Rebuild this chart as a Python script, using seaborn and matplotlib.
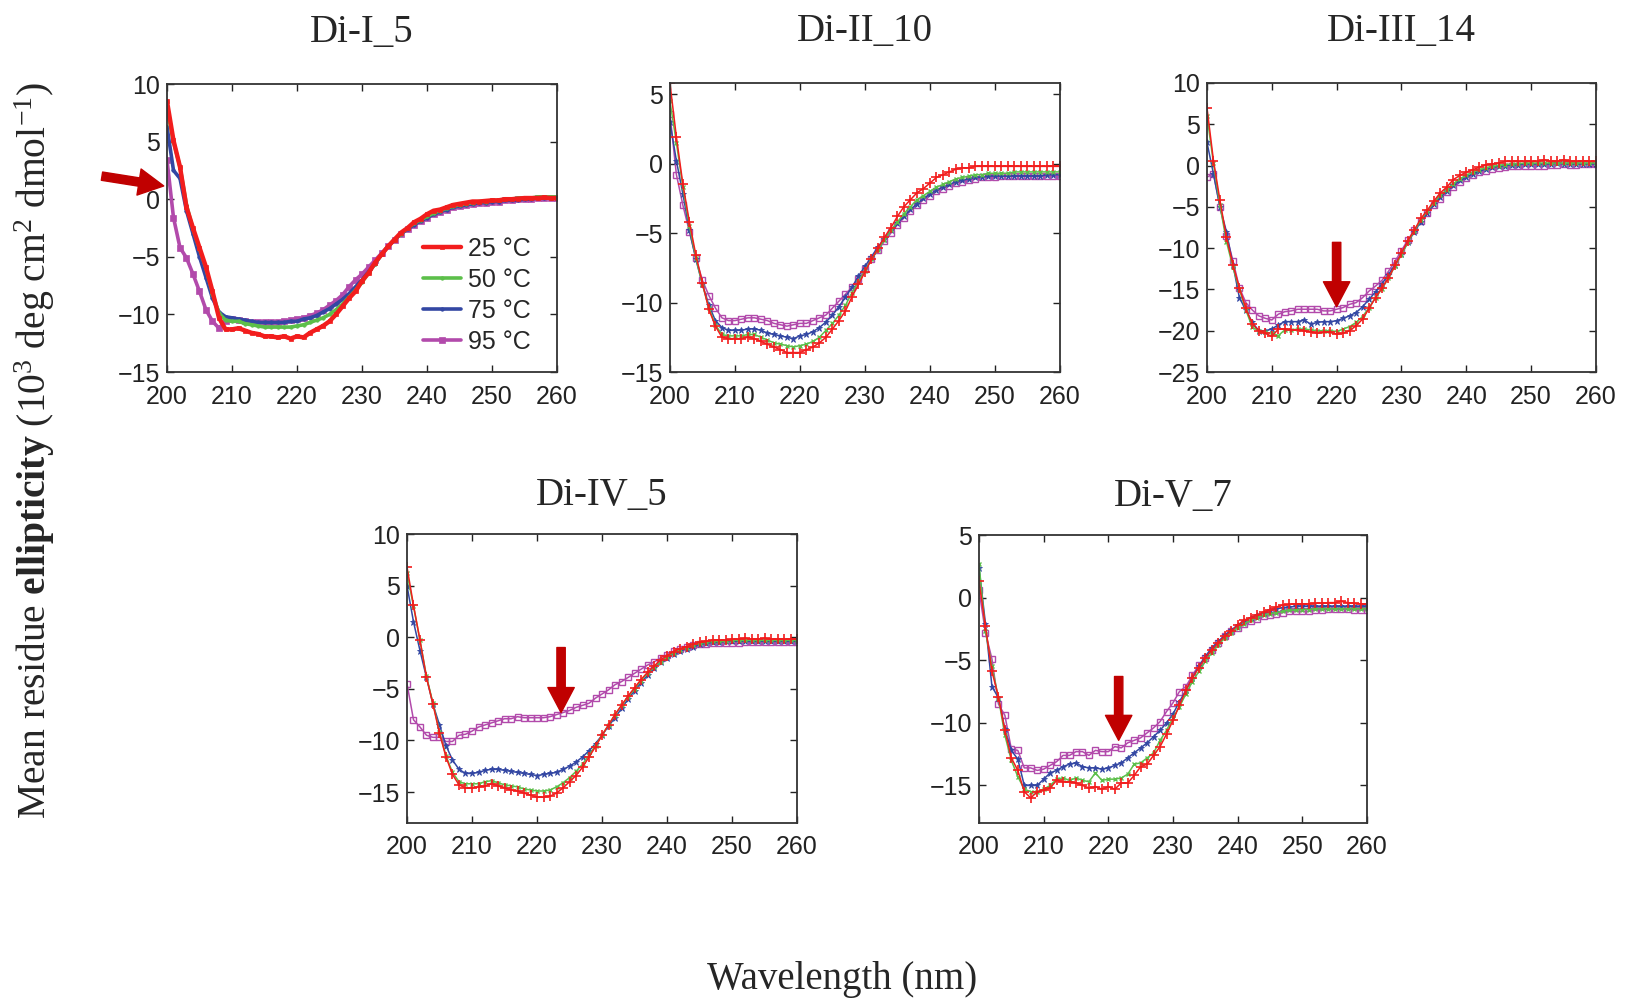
import numpy as np
import pandas as pd
import seaborn as sns
import matplotlib.pyplot as plt

# wavelength grid (nm), one reading per nm
wl = list(range(200, 261))

temps = ['25 °C', '50 °C', '75 °C', '95 °C']
titles = ['Di-I_5', 'Di-II_10', 'Di-III_14', 'Di-IV_5', 'Di-V_7']

# Di-I_5
d1_25 = [8.5, 5.1, 2.8, -0.7, -2.5, -4.2, -5.9, -8.0, -10.3, -11.3,
         -11.3, -11.2, -11.4, -11.6, -11.7, -11.9, -11.9, -12.0, -11.9, -12.1,
         -11.9, -12.0, -11.6, -11.3, -11.0, -10.6, -10.0, -9.3, -8.6, -8.0,
         -7.1, -6.4, -5.5, -4.8, -4.1, -3.5, -2.9, -2.5, -2.0, -1.7,
         -1.3, -1.0, -0.9, -0.7, -0.5, -0.4, -0.3, -0.2, -0.2, -0.15,
         -0.1, -0.1, 0.0, 0.0, 0.05, 0.1, 0.1, 0.1, 0.15, 0.1, 0.1]
d1_50 = [7.8, 5.0, 2.8, -0.5, -2.6, -4.3, -6.0, -8.2, -9.9, -10.5,
         -10.6, -10.6, -10.8, -10.9, -11.0, -11.1, -11.1, -11.1, -11.1, -11.1,
         -11.0, -10.9, -10.7, -10.5, -10.3, -10.0, -9.6, -9.1, -8.5, -7.9,
         -7.2, -6.4, -5.6, -4.8, -4.1, -3.5, -3.0, -2.5, -2.1, -1.8,
         -1.5, -1.2, -1.0, -0.8, -0.6, -0.5, -0.4, -0.3, -0.2, -0.2,
         -0.1, -0.1, 0.0, 0.0, 0.1, 0.1, 0.1, 0.2, 0.2, 0.2, 0.2]
d1_75 = [6.3, 2.5, 1.8, -1.0, -3.0, -5.0, -6.8, -8.6, -9.8, -10.2,
         -10.3, -10.4, -10.5, -10.6, -10.7, -10.7, -10.7, -10.7, -10.7, -10.6,
         -10.6, -10.4, -10.3, -10.1, -9.8, -9.5, -9.1, -8.7, -8.2, -7.6,
         -7.0, -6.3, -5.6, -4.8, -4.1, -3.5, -3.0, -2.6, -2.2, -1.9,
         -1.6, -1.3, -1.1, -0.9, -0.7, -0.6, -0.5, -0.4, -0.3, -0.3,
         -0.2, -0.2, -0.1, -0.1, -0.1, 0.0, 0.0, 0.1, 0.1, 0.1, 0.1]
d1_95 = [3.4, -1.6, -4.2, -5.1, -6.5, -8.0, -9.6, -10.6, -11.2, -10.6,
         -10.4, -10.5, -10.6, -10.7, -10.7, -10.7, -10.7, -10.7, -10.6, -10.5,
         -10.4, -10.3, -10.1, -9.9, -9.6, -9.2, -8.8, -8.3, -7.6, -7.0,
         -6.5, -5.9, -5.3, -4.7, -4.1, -3.5, -3.0, -2.6, -2.2, -1.9,
         -1.6, -1.3, -1.1, -0.9, -0.7, -0.6, -0.5, -0.4, -0.3, -0.3,
         -0.2, -0.2, -0.1, -0.1, 0.0, 0.0, 0.0, 0.1, 0.1, 0.1, 0.1]

# Di-II_10
d2_25 = [5.8, 1.9, -1.5, -4.2, -6.6, -8.6, -10.5, -11.7, -12.5, -12.6,
         -12.6, -12.6, -12.5, -12.6, -12.8, -13.0, -13.2, -13.4, -13.6, -13.6,
         -13.6, -13.4, -13.2, -12.9, -12.5, -11.9, -11.3, -10.6, -9.6, -8.7,
         -7.8, -6.9, -6.1, -5.3, -4.6, -3.8, -3.1, -2.6, -2.1, -1.8,
         -1.4, -1.0, -0.8, -0.6, -0.4, -0.3, -0.3, -0.2, -0.2, -0.2,
         -0.2, -0.2, -0.2, -0.2, -0.2, -0.2, -0.2, -0.2, -0.2, -0.2, -0.2]
d2_50 = [4.5, 1.5, -1.7, -4.5, -6.8, -8.7, -10.4, -11.6, -12.3, -12.4,
         -12.4, -12.4, -12.3, -12.3, -12.5, -12.7, -12.9, -13.0, -13.1, -13.2,
         -13.1, -13.0, -12.8, -12.5, -12.0, -11.5, -10.9, -10.2, -9.3, -8.5,
         -7.7, -6.9, -6.2, -5.5, -4.8, -4.2, -3.6, -3.1, -2.6, -2.3,
         -2.0, -1.7, -1.5, -1.3, -1.1, -1.0, -0.9, -0.8, -0.8, -0.7,
         -0.7, -0.7, -0.7, -0.6, -0.6, -0.6, -0.6, -0.6, -0.6, -0.6, -0.6]
d2_75 = [3.0, 0.2, -2.2, -4.8, -6.9, -8.7, -10.2, -11.3, -11.8, -12.0,
         -12.0, -12.0, -11.9, -11.9, -12.0, -12.2, -12.3, -12.4, -12.5, -12.6,
         -12.4, -12.3, -12.1, -11.8, -11.4, -10.9, -10.3, -9.6, -8.9, -8.1,
         -7.4, -6.7, -6.0, -5.4, -4.8, -4.3, -3.8, -3.3, -2.9, -2.5,
         -2.2, -1.9, -1.7, -1.5, -1.3, -1.2, -1.1, -1.0, -1.0, -0.9,
         -0.9, -0.9, -0.9, -0.9, -0.9, -0.9, -0.9, -0.9, -0.8, -0.8, -0.8]
d2_95 = [3.6, -0.8, -3.0, -4.9, -6.8, -8.4, -9.5, -10.4, -11.1, -11.3,
         -11.3, -11.2, -11.1, -11.1, -11.2, -11.3, -11.5, -11.6, -11.7, -11.6,
         -11.5, -11.5, -11.3, -11.1, -10.9, -10.4, -9.9, -9.4, -8.9, -8.3,
         -7.6, -6.9, -6.2, -5.6, -5.0, -4.4, -3.9, -3.4, -3.0, -2.6,
         -2.3, -2.0, -1.8, -1.6, -1.4, -1.3, -1.2, -1.1, -1.0, -1.0,
         -1.0, -0.9, -0.9, -0.9, -0.9, -0.9, -0.9, -0.9, -0.9, -0.9, -0.9]

# Di-III_14
d3_25 = [7.0, 0.6, -4.2, -8.7, -12.0, -14.8, -17.3, -19.2, -20.0, -20.3,
         -20.7, -19.8, -19.8, -19.9, -19.9, -20.0, -20.1, -20.3, -20.2, -20.2,
         -20.4, -20.3, -20.0, -19.4, -18.6, -17.3, -16.0, -14.8, -13.6, -12.1,
         -10.6, -9.1, -7.8, -6.4, -5.4, -4.3, -3.3, -2.6, -1.7, -1.2,
         -0.8, -0.5, -0.2, 0.1, 0.2, 0.3, 0.5, 0.5, 0.5, 0.5,
         0.5, 0.5, 0.7, 0.5, 0.5, 0.7, 0.5, 0.5, 0.6, 0.5, 0.5]
d3_50 = [6.0, 0.3, -4.8, -9.2, -12.3, -15.0, -17.5, -19.6, -20.0, -20.2,
         -20.3, -20.6, -19.9, -19.9, -19.8, -19.8, -19.9, -20.0, -20.0, -20.0,
         -20.1, -19.8, -19.5, -19.0, -18.3, -17.2, -16.0, -14.9, -13.6, -12.2,
         -10.8, -9.3, -7.9, -6.6, -5.5, -4.5, -3.6, -2.9, -2.2, -1.6,
         -1.2, -0.8, -0.5, -0.3, -0.1, 0.0, 0.1, 0.2, 0.2, 0.3,
         0.3, 0.3, 0.3, 0.3, 0.3, 0.3, 0.3, 0.3, 0.3, 0.3, 0.3]
d3_75 = [2.8, -1.0, -5.0, -8.0, -12.0, -16.0, -17.5, -19.0, -20.0, -20.0,
         -19.8, -19.3, -18.9, -18.9, -18.9, -18.7, -19.2, -19.0, -18.9, -18.9,
         -18.8, -18.5, -18.2, -17.8, -17.1, -16.2, -15.3, -14.3, -13.2, -12.0,
         -10.7, -9.3, -8.0, -6.8, -5.7, -4.7, -3.8, -3.1, -2.4, -1.8,
         -1.4, -1.0, -0.7, -0.4, -0.2, -0.1, 0.0, 0.1, 0.1, 0.2,
         0.2, 0.2, 0.2, 0.2, 0.3, 0.2, 0.2, 0.2, 0.2, 0.2, 0.2]
d3_95 = [-1.4, -1.0, -5.0, -8.5, -11.5, -14.8, -16.6, -17.5, -18.2, -18.5,
         -18.7, -18.0, -17.7, -17.6, -17.4, -17.4, -17.4, -17.4, -17.6, -17.6,
         -17.4, -17.2, -16.8, -16.6, -16.0, -15.2, -14.6, -13.9, -12.8, -11.6,
         -10.3, -9.0, -7.8, -6.7, -5.7, -4.8, -4.0, -3.2, -2.6, -2.0,
         -1.5, -1.1, -0.8, -0.6, -0.4, -0.3, -0.2, -0.1, -0.1, 0.0,
         0.0, 0.0, 0.0, 0.1, 0.1, 0.2, 0.1, 0.1, 0.2, 0.2, 0.2]

# Di-IV_5
d4_25 = [6.8, 3.1, -0.3, -3.9, -6.5, -9.3, -11.6, -13.3, -14.3, -14.6,
         -14.6, -14.5, -14.4, -14.2, -14.4, -14.6, -14.8, -14.9, -15.1, -15.3,
         -15.5, -15.5, -15.4, -15.1, -14.6, -14.0, -13.4, -12.6, -11.6, -10.6,
         -9.5, -8.5, -7.5, -6.6, -5.7, -4.9, -4.1, -3.4, -2.8, -2.2,
         -1.8, -1.4, -1.1, -0.9, -0.7, -0.5, -0.4, -0.3, -0.3, -0.3,
         -0.2, -0.2, -0.1, -0.2, -0.2, -0.1, -0.2, -0.2, -0.2, -0.2, -0.2]
d4_50 = [6.2, 3.0, -0.3, -3.8, -6.4, -9.2, -11.5, -13.1, -14.0, -14.2,
         -14.2, -14.2, -14.0, -13.9, -14.1, -14.3, -14.4, -14.5, -14.7, -14.8,
         -14.9, -14.9, -14.8, -14.5, -14.1, -13.6, -13.0, -12.3, -11.4, -10.5,
         -9.5, -8.5, -7.5, -6.6, -5.8, -5.0, -4.2, -3.5, -2.9, -2.4,
         -1.9, -1.5, -1.2, -1.0, -0.8, -0.6, -0.5, -0.4, -0.4, -0.4,
         -0.3, -0.3, -0.3, -0.3, -0.3, -0.3, -0.3, -0.3, -0.3, -0.3, -0.3]
d4_75 = [5.0, 1.5, -1.3, -3.9, -6.5, -8.5, -10.5, -11.9, -12.8, -13.2,
         -13.2, -13.1, -12.9, -12.8, -12.8, -12.9, -13.0, -13.1, -13.2, -13.3,
         -13.4, -13.3, -13.2, -13.1, -12.8, -12.5, -12.1, -11.6, -11.0, -10.3,
         -9.5, -8.6, -7.8, -6.9, -6.0, -5.2, -4.4, -3.7, -3.0, -2.4,
         -2.0, -1.6, -1.3, -1.1, -0.9, -0.7, -0.6, -0.5, -0.5, -0.4,
         -0.4, -0.4, -0.4, -0.4, -0.4, -0.4, -0.4, -0.4, -0.4, -0.4, -0.4]
d4_95 = [-4.5, -8.0, -8.7, -9.5, -9.7, -9.7, -10.1, -10.1, -9.5, -9.4,
         -9.1, -8.7, -8.5, -8.3, -8.1, -7.9, -7.9, -7.7, -7.8, -7.8,
         -7.8, -7.8, -7.7, -7.5, -7.3, -7.1, -6.8, -6.6, -6.4, -5.9,
         -5.5, -5.1, -4.6, -4.3, -3.9, -3.5, -3.1, -2.7, -2.4, -2.0,
         -1.7, -1.35, -1.1, -0.95, -0.8, -0.7, -0.7, -0.6, -0.6, -0.6,
         -0.6, -0.6, -0.5, -0.5, -0.5, -0.5, -0.5, -0.5, -0.5, -0.5, -0.5]

# Di-V_7
d5_25 = [1.3, -2.3, -5.9, -7.9, -10.6, -12.8, -13.8, -15.5, -16.0, -15.5,
         -15.4, -15.2, -14.6, -14.7, -14.7, -14.8, -15.0, -15.2, -15.1, -15.3,
         -15.1, -15.3, -14.8, -14.8, -14.2, -13.5, -13.3, -12.6, -11.9, -10.9,
         -9.8, -8.6, -7.4, -6.4, -5.6, -4.8, -4.2, -3.6, -3.1, -2.7,
         -2.2, -1.8, -1.6, -1.4, -1.15, -0.95, -0.75, -0.6, -0.55, -0.5,
         -0.5, -0.5, -0.45, -0.45, -0.4, -0.4, -0.3, -0.4, -0.45, -0.5, -0.55]
d5_50 = [2.7, -2.7, -5.5, -8.0, -11.0, -13.0, -14.3, -15.3, -15.5, -15.5,
         -15.3, -15.0, -14.5, -14.4, -14.6, -14.4, -14.6, -14.7, -14.0, -14.6,
         -14.5, -14.5, -14.4, -14.1, -13.3, -13.2, -12.8, -12.4, -11.4, -10.6,
         -9.6, -8.7, -7.7, -6.7, -5.9, -5.1, -4.4, -3.8, -3.2, -2.8,
         -2.4, -2.1, -1.8, -1.6, -1.4, -1.3, -1.2, -1.1, -1.0, -1.0,
         -0.95, -0.95, -0.9, -0.9, -0.9, -0.9, -0.9, -0.9, -0.9, -0.9, -0.9]
d5_75 = [2.4, -2.1, -7.1, -8.0, -10.5, -12.2, -12.9, -15.0, -15.0, -15.0,
         -14.5, -14.0, -13.8, -13.5, -13.3, -13.2, -13.5, -13.6, -13.6, -13.7,
         -13.6, -13.4, -13.2, -12.8, -12.4, -12.0, -11.6, -11.1, -10.6, -10.0,
         -9.3, -8.3, -7.4, -6.4, -5.5, -4.7, -4.0, -3.5, -3.0, -2.6,
         -2.2, -1.9, -1.6, -1.4, -1.2, -1.0, -0.9, -0.8, -0.75, -0.7,
         -0.7, -0.7, -0.7, -0.7, -0.7, -0.7, -0.7, -0.7, -0.7, -0.7, -0.7]
d5_95 = [0.6, -2.8, -4.9, -8.5, -9.4, -12.1, -12.2, -13.6, -13.6, -13.8,
         -13.7, -13.4, -13.1, -12.6, -12.6, -12.3, -12.3, -12.6, -12.2, -12.3,
         -12.3, -11.9, -12.0, -11.6, -11.4, -11.2, -10.8, -10.4, -9.9, -9.1,
         -8.4, -7.5, -7.1, -6.2, -5.4, -4.8, -4.2, -3.6, -3.1, -2.7,
         -2.4, -2.1, -1.9, -1.7, -1.5, -1.4, -1.3, -1.2, -1.1, -1.1,
         -1.1, -1.1, -1.0, -1.0, -0.9, -0.9, -0.9, -0.9, -1.0, -1.0, -1.0]

panel_data = [
    [d1_25, d1_50, d1_75, d1_95],
    [d2_25, d2_50, d2_75, d2_95],
    [d3_25, d3_50, d3_75, d3_95],
    [d4_25, d4_50, d4_75, d4_95],
    [d5_25, d5_50, d5_75, d5_95],
]
ylims = [(-15, 10), (-15, 5.8), (-25, 10), (-18, 10), (-18, 5)]
yticks = [range(-15, 11, 5), range(-15, 6, 5), range(-25, 11, 5),
          range(-15, 11, 5), range(-15, 6, 5)]

# axes boxes in figure fraction
boxes = [
    [0.1027, 0.628, 0.2399, 0.288],
    [0.4120, 0.628, 0.2399, 0.289],
    [0.7423, 0.628, 0.2392, 0.289],
    [0.2503, 0.177, 0.2399, 0.289],
    [0.6021, 0.177, 0.2386, 0.288],
]
title_pads = [30, 30, 30, 21, 21]

colors = ['#f21d1d', '#5cbf4a', '#3347a3', '#b24aab']
# thin style for the plain panels
thin_style = [
    dict(marker='+', ms=7, mew=1.2, lw=1.1),
    dict(marker='x', ms=3.5, mew=1.0, lw=1.1),
    dict(marker='*', ms=5, mew=0.6, lw=1.1),
    dict(marker='s', ms=5, mew=1.0, lw=1.1, mfc='none'),
]
# heavy style used in the first panel
thick_style = [
    dict(marker='s', ms=3, mew=0.5, lw=3.2),
    dict(marker='.', ms=5, mew=0.5, lw=2.6),
    dict(marker='.', ms=5, mew=0.5, lw=2.6),
    dict(marker='s', ms=5, mew=0.5, lw=2.6),
]

# arrows: (panel, tail, tip) in data coords
arrows = [
    (0, (190.0, 2.0), (199.5, 1.15)),
    (2, (220.0, -9.3), (220.0, -17.1)),
    (3, (223.7, -1.0), (223.7, -7.3)),
    (4, (221.6, -6.3), (221.6, -11.4)),
]

sns.set_style('ticks')
plt.rcParams['font.family'] = ['Liberation Sans', 'DejaVu Sans']
plt.rcParams['mathtext.fontset'] = 'custom'
plt.rcParams['mathtext.rm'] = 'Liberation Serif'
plt.rcParams['mathtext.bf'] = 'Liberation Serif:bold'
plt.rcParams['mathtext.it'] = 'Liberation Serif:italic'

fig = plt.figure(figsize=(16.26, 10), dpi=100)
fig.patch.set_facecolor('white')

axes = []
for i, box in enumerate(boxes):
    ax = fig.add_axes(box)
    axes.append(ax)
    styles = thick_style if i == 0 else thin_style
    # draw 95 first so that 25 sits on top
    for j in [3, 2, 1, 0]:
        df = pd.DataFrame({'wl': wl, 'mre': panel_data[i][j]})
        kw = dict(styles[j])
        if i == 0:
            kw['label'] = temps[j]
        sns.lineplot(data=df, x='wl', y='mre', ax=ax, color=colors[j],
                     mec=colors[j], legend=False, **kw)
    ax.set_xlim(200, 260)
    ax.set_ylim(*ylims[i])
    ax.set_xticks(range(200, 261, 10))
    ax.set_yticks(list(yticks[i]))
    ax.set_xlabel('')
    ax.set_ylabel('')
    ax.tick_params(direction='in', top=True, right=True, length=5, width=1,
                   labelsize=18, colors='#222222')
    ax.tick_params(axis='x', pad=9)
    ax.tick_params(axis='y', pad=5)
    for sp in ax.spines.values():
        sp.set_visible(True)
        sp.set_color('#333333')
        sp.set_linewidth(1.3)
    ax.set_title(titles[i], fontsize=28, family='Liberation Serif',
                 pad=title_pads[i])

# legend in the first panel
h, l = axes[0].get_legend_handles_labels()
order = [l.index(t) for t in temps]
axes[0].legend([h[k] for k in order], [l[k] for k in order],
               loc='lower right', bbox_to_anchor=(0.965, 0.02), frameon=False,
               fontsize=18, handlelength=1.5, handletextpad=0.3,
               labelspacing=0.28, borderpad=0)

for idx, tail, tip in arrows:
    axes[idx].annotate('', xy=tip, xytext=tail, xycoords='data',
                       textcoords='data', annotation_clip=False,
                       arrowprops=dict(facecolor='#c00000', edgecolor='#c00000',
                                       width=6, headwidth=19, headlength=18,
                                       shrink=0))

fig.text(0.0215, 0.55,
         r'Mean residue $\mathbf{ellipticity}$ (10$^3$ deg cm$^2$ dmol$^{-1}$)',
         rotation=90, ha='center', va='center', fontsize=28.5,
         family='Liberation Serif')
fig.text(0.518, 0.021, 'Wavelength (nm)', ha='center', va='center',
         fontsize=28, family='Liberation Serif')

fig.savefig('out.png', dpi=100, facecolor='white')
